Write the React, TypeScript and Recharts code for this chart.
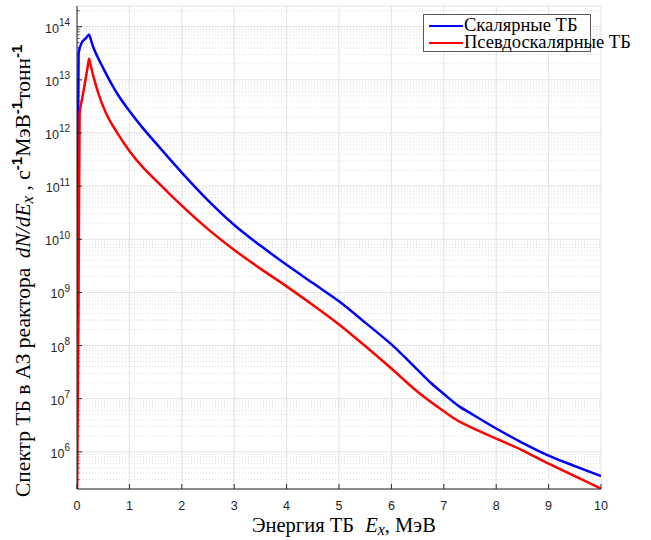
import React from "react";
import { CartesianGrid, Line, LineChart, ReferenceLine, XAxis, YAxis } from "recharts";

// Energy grid (MeV) and spectra
const energyScalar = [
  0, 0.015, 0.03, 0.1, 0.15, 0.2, 0.23, 0.26, 0.3, 0.4, 0.5, 0.65, 0.8, 1.0, 1.25, 1.5, 1.75,
  2.0, 2.5, 3.0, 3.5, 4.0, 4.5, 5.0, 5.5, 6.0, 6.5, 6.75, 7.0, 7.3, 7.5, 8.0, 8.5, 9.0, 9.5, 10,
];
const scalarSpectrum = [
  1.1e8, 1e11, 3.2e13, 5.2e13, 5.8e13, 6.6e13, 7.1e13, 5.9e13, 4.4e13, 2.6e13, 1.66e13,
  8.7e12, 4.9e12, 2.6e12, 1.26e12, 6.5e11, 3.4e11, 1.8e11, 5.4e10, 1.86e10, 7.6e9, 3.3e9,
  1.5e9, 6.8e8, 2.7e8, 1.05e8, 3.5e7, 2.0e7, 1.23e7, 7.1e6, 5.4e6, 2.75e6, 1.48e6, 8.5e5,
  5.4e5, 3.5e5,
];

const energyPseudo = [
  0, 0.03, 0.05, 0.1, 0.21, 0.23, 0.25, 0.3, 0.4, 0.55, 0.75, 1.0, 1.25, 1.5, 1.75, 2.0, 2.5,
  3.0, 3.5, 4.0, 4.5, 5.0, 5.5, 6.0, 6.5, 7.0, 7.3, 7.5, 8.0, 8.5, 9.0, 9.5, 10,
];
const pseudoSpectrum = [
  1e5, 1e9, 2.3e12, 4.5e12, 1.9e13, 2.5e13, 2.1e13, 1.3e13, 5.9e12, 2.4e12, 1.07e12, 4.6e11,
  2.3e11, 1.3e11, 7.4e10, 4.3e10, 1.55e10, 6.3e9, 2.8e9, 1.3e9, 5.8e8, 2.5e8, 9.8e7, 3.7e7,
  1.35e7, 5.8e6, 3.7e6, 2.95e6, 1.78e6, 1.07e6, 6.0e5, 3.5e5, 2.04e5,
];

const xTicks = [0, 1, 2, 3, 4, 5, 6, 7, 8, 9, 10];
const yTicks = [1e6, 1e7, 1e8, 1e9, 1e10, 1e11, 1e12, 1e13, 1e14];

const Y_MIN = 2e5;
const Y_MAX = 2.45e14;

const SANS = "'Liberation Sans', Arial, Helvetica, sans-serif";
const SERIF = "'Liberation Serif', 'Times New Roman', serif";
const INK = "#262626";

const scalarData = energyScalar.map((x, i) => ({ x, y: scalarSpectrum[i] }));
const pseudoData = energyPseudo.map((x, i) => ({ x, y: pseudoSpectrum[i] }));

// minor log grid: 2..9 x 10^k inside the axis range
const minorLevels: number[] = [];
for (let k = 5; k <= 14; k++) {
  for (let m = 2; m <= 9; m++) {
    const v = m * Math.pow(10, k);
    if (v > Y_MIN && v < Y_MAX) minorLevels.push(v);
  }
}

function PowerTick({ x, y, payload }: any) {
  const exp = Math.round(Math.log10(payload.value));
  return (
    <text x={x} y={y} textAnchor="end" fill={INK} fontFamily={SANS}>
      <tspan fontSize={12.5} dy={6}>10</tspan>
      <tspan fontSize={10} dy={-6.5}>{exp}</tspan>
    </text>
  );
}

function XTitle() {
  return (
    <text x={252} y={532} fontFamily={SERIF} fontSize={20.5} fill="#000">
      Энергия ТБ{"  "}
      <tspan fontStyle="italic" dx={6}>E</tspan>
      <tspan fontStyle="italic" fontSize={16} dy={3}>x</tspan>
      <tspan dy={-3}>, МэВ</tspan>
    </text>
  );
}

function YTitle() {
  return (
    <text transform="translate(30,497) rotate(-90)" x={0} y={0} fontFamily={SERIF} fontSize={21.5} fill="#000">
      Спектр ТБ в АЗ реактора{" "}
      <tspan fontStyle="italic" dx={4}>dN</tspan>
      <tspan fontStyle="italic">/</tspan>
      <tspan fontStyle="italic">dE</tspan>
      <tspan fontStyle="italic" fontSize={17} dy={3}>x</tspan>
      <tspan dy={-3}> , с</tspan>
      <tspan fontSize={15} dy={-8} fontFamily={SANS} fontWeight="bold">-1</tspan>
      <tspan dy={8}>МэВ</tspan>
      <tspan fontSize={15} dy={-8} fontFamily={SANS} fontWeight="bold">-1</tspan>
      <tspan dy={8}>тонн</tspan>
      <tspan fontSize={15} dy={-8} fontFamily={SANS} fontWeight="bold">-1</tspan>
    </text>
  );
}

export default function App() {
  return (
    <div style={{ position: "absolute", left: 0, top: 0, width: 651, height: 540, background: "#fff" }}>
      <LineChart width={651} height={540} margin={{ top: 6, right: 50, bottom: 0, left: 0 }}>
        <CartesianGrid stroke="#e3e3e3" strokeWidth={1} />
        {minorLevels.map((v) => (
          <ReferenceLine key={v} y={v} stroke="#d4d4d4" strokeDasharray="1 2" strokeWidth={0.8} />
        ))}
        {/* small inward minor ticks on the left axis */}
        {minorLevels.map((v) => (
          <ReferenceLine
            key={"t" + v}
            segment={[{ x: 0, y: v }, { x: 0.05, y: v }]}
            stroke={INK}
            strokeWidth={0.8}
          />
        ))}
        <XAxis
          dataKey="x"
          type="number"
          domain={[0, 10]}
          ticks={xTicks}
          interval={0}
          allowDataOverflow
          height={51}
          tickSize={-5}
          tickMargin={17}
          stroke={INK}
          tick={{ fill: INK, fontSize: 12.5, fontFamily: SANS }}
          label={<XTitle />}
        />
        <YAxis
          type="number"
          scale="log"
          domain={[Y_MIN, Y_MAX]}
          ticks={yTicks}
          interval={0}
          allowDataOverflow
          width={77}
          tickSize={-5}
          tickMargin={12}
          stroke={INK}
          tick={<PowerTick />}
          label={<YTitle />}
        />
        <Line
          data={scalarData}
          dataKey="y"
          type="monotone"
          stroke="#0000ff"
          strokeWidth={2.5}
          dot={false}
          isAnimationActive={false}
        />
        <Line
          data={pseudoData}
          dataKey="y"
          type="monotone"
          stroke="#ff0000"
          strokeWidth={2.5}
          dot={false}
          isAnimationActive={false}
        />
      </LineChart>

      {/* Legend box (text runs past the frame, as in the original) */}
      <div
        style={{
          position: "absolute",
          left: 423,
          top: 14,
          width: 166,
          height: 36,
          border: "1px solid #5a5a5a",
          background: "#fff",
          fontFamily: SERIF,
          fontSize: 18.5,
          lineHeight: "17px",
          whiteSpace: "nowrap",
          color: "#000",
        }}
      >
        {[
          { label: "Скалярные ТБ", color: "#0000ff" },
          { label: "Псевдоскалярные ТБ", color: "#ff0000" },
        ].map(({ label, color }, i) => (
          <div key={label} style={{ position: "absolute", left: 5, top: 2 + i * 17, display: "flex", alignItems: "center" }}>
            <div style={{ width: 34, height: 2, background: color }} />
            <span style={{ marginLeft: 1 }}>{label}</span>
          </div>
        ))}
      </div>
    </div>
  );
}
